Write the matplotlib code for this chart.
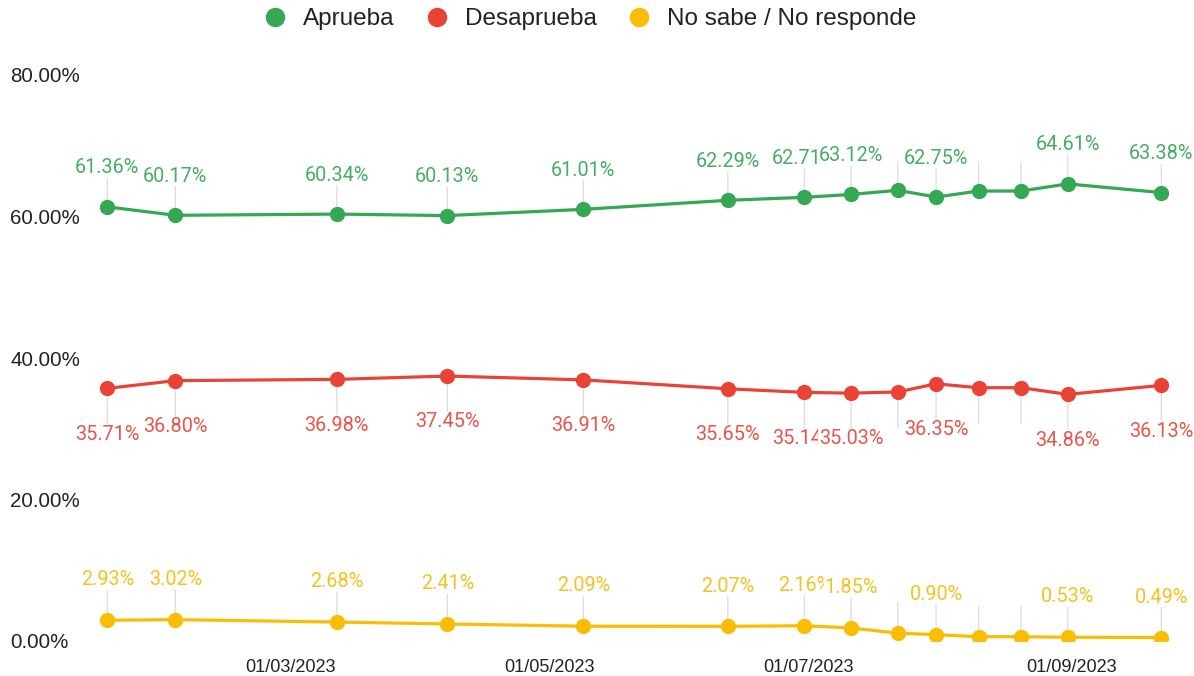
import numpy as np
import pandas as pd
import matplotlib
matplotlib.use("Agg")
import matplotlib.pyplot as plt
import matplotlib.dates as mdates

plt.rcParams['font.family'] = ['Liberation Sans', 'DejaVu Sans']

# Fechas de las encuestas
fechas = pd.to_datetime([
    "2023-01-17", "2023-02-02", "2023-03-12", "2023-04-07", "2023-05-09",
    "2023-06-12", "2023-06-30", "2023-07-11", "2023-07-22", "2023-07-31",
    "2023-08-10", "2023-08-20", "2023-08-31", "2023-09-22",
])

aprueba = [61.36, 60.17, 60.34, 60.13, 61.01, 62.29, 62.71, 63.12, 63.70, 62.75, 63.60, 63.60, 64.61, 63.38]
desaprueba = [35.71, 36.80, 36.98, 37.45, 36.91, 35.65, 35.14, 35.03, 35.20, 36.35, 35.80, 35.80, 34.86, 36.13]
ns_nr = [2.93, 3.02, 2.68, 2.41, 2.09, 2.07, 2.16, 1.85, 1.10, 0.90, 0.60, 0.60, 0.53, 0.49]

# puntos sin etiqueta visible (se solapan)
ocultos = [8, 10, 11]

verde = "#34A853"
rojo = "#EA4335"
amarillo = "#FBBC04"
# las etiquetas se ven algo mas claras
verde_txt = "#46AE62"
rojo_txt = "#E8564A"
amarillo_txt = "#F5C21F"

fig = plt.figure(figsize=(11.94, 6.76), dpi=100)
ax = fig.add_axes([95 / 1194, 35 / 676, 1085 / 1194, 566 / 676])

x = mdates.date2num(fechas)
series = [
    ("Aprueba", aprueba, verde, verde_txt, 28),
    ("Desaprueba", desaprueba, rojo, rojo_txt, -33),
    ("No sabe / No responde", ns_nr, amarillo, amarillo_txt, 29),
]

for nombre, valores, color, ctxt, off in series:
    ax.plot(x, valores, color=color, lw=2.3, marker="o", markersize=10,
            label=nombre, zorder=3)
    for i, (xi, v) in enumerate(zip(x, valores)):
        texto = "" if i in ocultos else f"{v:.2f}%"
        ax.annotate(texto, (xi, v), xytext=(0, off), textcoords="offset points",
                    ha="center", va="center", fontsize=14.3, color=ctxt,
                    family=["Roboto", "DejaVu Sans"],
                    bbox=dict(fc="white", ec="none", pad=0.3),
                    arrowprops=dict(arrowstyle="-", color="#dcdcdc", lw=0.9,
                                    shrinkA=0, shrinkB=0),
                    zorder=1)

marzo = mdates.date2num(pd.Timestamp("2023-03-01"))
ax.set_xlim(marzo - 45.9, marzo + 209.4)
ax.set_ylim(0, 80)

ticks_x = pd.to_datetime(["2023-03-01", "2023-05-01", "2023-07-01", "2023-09-01"])
ax.set_xticks(mdates.date2num(ticks_x))
ax.set_xticklabels([d.strftime("%d/%m/%Y") for d in ticks_x])
ax.set_yticks([0, 20, 40, 60, 80])
ax.set_yticklabels(["0.00%", "20.00%", "40.00%", "60.00%", "80.00%"])
for lab in ax.get_yticklabels():
    lab.set_horizontalalignment("left")
ax.tick_params(axis="y", length=0, pad=61, labelsize=14.8, labelcolor="#222222")
ax.tick_params(axis="x", length=0, pad=13, labelsize=13.1, labelcolor="#222222")
for s in ax.spines.values():
    s.set_visible(False)

leg = fig.legend(*ax.get_legend_handles_labels(), loc="upper center",
                 bbox_to_anchor=(0.495, 1.02), ncol=3, frameon=False,
                 fontsize=17.5, handlelength=0.8, columnspacing=1.35, handletextpad=0.75)
for h in leg.legend_handles:
    h.set_linestyle("none")
    h.set_markersize(13)
for t in leg.get_texts():
    t.set_color("#222222")

fig.savefig("out.png", dpi=100)
